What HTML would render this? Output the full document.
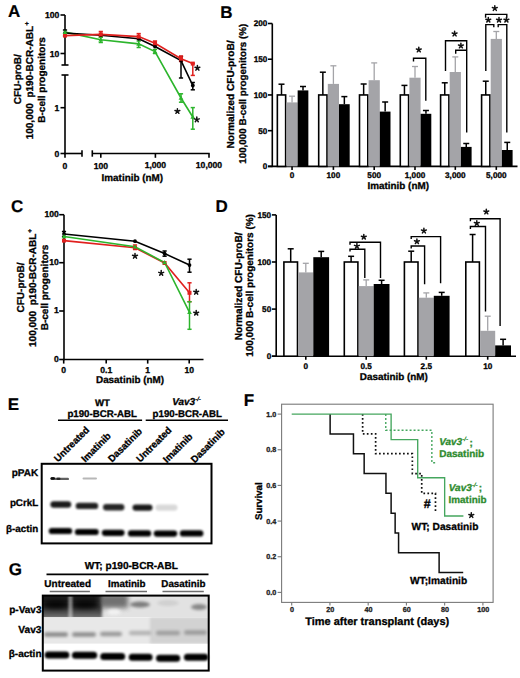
<!DOCTYPE html><html><head><meta charset="utf-8"><title>Figure</title><style>html,body{margin:0;padding:0;background:#fff;}svg{display:block;font-family:"Liberation Sans",sans-serif;font-weight:bold;text-rendering:geometricPrecision;}</style></head><body>
<svg width="520" height="678" viewBox="0 0 520 678">
<defs>
<filter id="b0_6" x="-50%" y="-200%" width="200%" height="500%"><feGaussianBlur stdDeviation="0.6"/></filter>
<filter id="b0_7" x="-50%" y="-200%" width="200%" height="500%"><feGaussianBlur stdDeviation="0.7"/></filter>
<filter id="b0_8" x="-50%" y="-200%" width="200%" height="500%"><feGaussianBlur stdDeviation="0.8"/></filter>
<filter id="b0_9" x="-50%" y="-200%" width="200%" height="500%"><feGaussianBlur stdDeviation="0.9"/></filter>
<filter id="b1_0" x="-50%" y="-200%" width="200%" height="500%"><feGaussianBlur stdDeviation="1.0"/></filter>
<filter id="b1_2" x="-50%" y="-200%" width="200%" height="500%"><feGaussianBlur stdDeviation="1.2"/></filter>
<filter id="b1_5" x="-50%" y="-200%" width="200%" height="500%"><feGaussianBlur stdDeviation="1.5"/></filter>
<filter id="b2_5" x="-50%" y="-200%" width="200%" height="500%"><feGaussianBlur stdDeviation="2.5"/></filter>
<clipPath id="clipG1"><rect x="42.8" y="595.6" width="165.9" height="21.7"/></clipPath>
<clipPath id="clipG2"><rect x="42.8" y="617.3" width="165.9" height="26.5"/></clipPath>
<linearGradient id="gradP" x1="0" y1="0" x2="0" y2="1"><stop offset="0" stop-color="#151515"/><stop offset="0.5" stop-color="#262626"/><stop offset="1" stop-color="#7a7a7a"/></linearGradient>
</defs>
<rect x="0" y="0" width="520" height="678" fill="#fff" stroke="none" stroke-width="0"/>
<text x="8" y="16.7" font-size="17" text-anchor="start" fill="#000" stroke="#000" stroke-width="0.2">A</text>
<text x="20.8" y="79.2" font-size="10" text-anchor="middle" fill="#000" stroke="#000" stroke-width="0.3" transform="rotate(-90 20.8 79.2)">CFU-proB/</text>
<text x="33.2" y="80.5" font-size="10" text-anchor="middle" fill="#000" stroke="#000" stroke-width="0.3" transform="rotate(-90 33.2 80.5)">100,000&#160;&#160;p190-BCR-ABL<tspan font-size="6.5" dx="0.5" dy="-3.8">+</tspan></text>
<text x="45" y="79.9" font-size="10" text-anchor="middle" fill="#000" stroke="#000" stroke-width="0.3" transform="rotate(-90 45 79.9)">B-cell progenitors</text>
<line x1="65" y1="15" x2="65" y2="65" stroke="#000" stroke-width="1.6"/>
<line x1="61.5" y1="65" x2="68.5" y2="65" stroke="#000" stroke-width="1.6"/>
<line x1="65" y1="75" x2="65" y2="154.2" stroke="#000" stroke-width="1.6"/>
<line x1="61.5" y1="75" x2="68.5" y2="75" stroke="#000" stroke-width="1.6"/>
<line x1="60.5" y1="15" x2="65" y2="15" stroke="#000" stroke-width="1.6"/>
<text x="59.3" y="18" font-size="8.6" text-anchor="end" fill="#000" stroke="#000" stroke-width="0.3">100</text>
<line x1="60.5" y1="53.5" x2="65" y2="53.5" stroke="#000" stroke-width="1.6"/>
<text x="59.3" y="56.5" font-size="8.6" text-anchor="end" fill="#000" stroke="#000" stroke-width="0.3">10</text>
<line x1="60.5" y1="107.7" x2="65" y2="107.7" stroke="#000" stroke-width="1.6"/>
<text x="59.3" y="110.7" font-size="8.6" text-anchor="end" fill="#000" stroke="#000" stroke-width="0.3">1</text>
<line x1="60.5" y1="153.5" x2="65" y2="153.5" stroke="#000" stroke-width="1.6"/>
<text x="59.3" y="156.5" font-size="8.6" text-anchor="end" fill="#000" stroke="#000" stroke-width="0.3">0</text>
<line x1="64.3" y1="153.5" x2="82" y2="153.5" stroke="#000" stroke-width="1.6"/>
<line x1="82" y1="150.3" x2="82" y2="156.7" stroke="#000" stroke-width="1.6"/>
<line x1="92.3" y1="153.5" x2="209.7" y2="153.5" stroke="#000" stroke-width="1.6"/>
<line x1="92.3" y1="150.3" x2="92.3" y2="156.7" stroke="#000" stroke-width="1.6"/>
<line x1="65" y1="153.5" x2="65" y2="157.8" stroke="#000" stroke-width="1.6"/>
<text x="65" y="168.8" font-size="8.6" text-anchor="middle" fill="#000" stroke="#000" stroke-width="0.3">0</text>
<line x1="100.8" y1="153.5" x2="100.8" y2="157.8" stroke="#000" stroke-width="1.6"/>
<text x="100.8" y="168.8" font-size="8.6" text-anchor="middle" fill="#000" stroke="#000" stroke-width="0.3">100</text>
<line x1="155.4" y1="153.5" x2="155.4" y2="157.8" stroke="#000" stroke-width="1.6"/>
<text x="155.4" y="167.6" font-size="8.6" text-anchor="middle" fill="#000" stroke="#000" stroke-width="0.3">1,000</text>
<line x1="209" y1="153.5" x2="209" y2="157.8" stroke="#000" stroke-width="1.6"/>
<text x="209" y="167.6" font-size="8.6" text-anchor="middle" fill="#000" stroke="#000" stroke-width="0.3">10,000</text>
<text x="101.6" y="181" font-size="9.9" text-anchor="start" fill="#000" stroke="#000" stroke-width="0.3">Imatinib (nM)</text>
<line x1="181" y1="56.5" x2="181" y2="78" stroke="#000" stroke-width="1.5"/>
<line x1="178.9" y1="56.5" x2="183.1" y2="56.5" stroke="#000" stroke-width="1.5"/>
<line x1="178.9" y1="78" x2="183.1" y2="78" stroke="#000" stroke-width="1.5"/>
<line x1="192.8" y1="82.5" x2="192.8" y2="89.8" stroke="#000" stroke-width="1.5"/>
<line x1="190.7" y1="82.5" x2="194.9" y2="82.5" stroke="#000" stroke-width="1.5"/>
<line x1="190.7" y1="89.8" x2="194.9" y2="89.8" stroke="#000" stroke-width="1.5"/>
<line x1="65" y1="30" x2="65" y2="36" stroke="#000" stroke-width="1.5"/>
<line x1="62.9" y1="30" x2="67.1" y2="30" stroke="#000" stroke-width="1.5"/>
<line x1="62.9" y1="36" x2="67.1" y2="36" stroke="#000" stroke-width="1.5"/>
<line x1="100.8" y1="31.5" x2="100.8" y2="36.8" stroke="#e0201e" stroke-width="1.5"/>
<line x1="98.7" y1="31.5" x2="102.9" y2="31.5" stroke="#e0201e" stroke-width="1.5"/>
<line x1="98.7" y1="36.8" x2="102.9" y2="36.8" stroke="#e0201e" stroke-width="1.5"/>
<line x1="138.7" y1="33.6" x2="138.7" y2="39.2" stroke="#e0201e" stroke-width="1.5"/>
<line x1="136.6" y1="33.6" x2="140.8" y2="33.6" stroke="#e0201e" stroke-width="1.5"/>
<line x1="136.6" y1="39.2" x2="140.8" y2="39.2" stroke="#e0201e" stroke-width="1.5"/>
<line x1="155" y1="41" x2="155" y2="45.5" stroke="#e0201e" stroke-width="1.5"/>
<line x1="152.9" y1="41" x2="157.1" y2="41" stroke="#e0201e" stroke-width="1.5"/>
<line x1="152.9" y1="45.5" x2="157.1" y2="45.5" stroke="#e0201e" stroke-width="1.5"/>
<line x1="181" y1="56" x2="181" y2="61.5" stroke="#e0201e" stroke-width="1.5"/>
<line x1="178.9" y1="56" x2="183.1" y2="56" stroke="#e0201e" stroke-width="1.5"/>
<line x1="178.9" y1="61.5" x2="183.1" y2="61.5" stroke="#e0201e" stroke-width="1.5"/>
<line x1="192.8" y1="63.3" x2="192.8" y2="75.4" stroke="#e0201e" stroke-width="1.5"/>
<line x1="190.7" y1="63.3" x2="194.9" y2="63.3" stroke="#e0201e" stroke-width="1.5"/>
<line x1="190.7" y1="75.4" x2="194.9" y2="75.4" stroke="#e0201e" stroke-width="1.5"/>
<line x1="100.8" y1="37.3" x2="100.8" y2="42.5" stroke="#2cb52c" stroke-width="1.5"/>
<line x1="98.7" y1="37.3" x2="102.9" y2="37.3" stroke="#2cb52c" stroke-width="1.5"/>
<line x1="98.7" y1="42.5" x2="102.9" y2="42.5" stroke="#2cb52c" stroke-width="1.5"/>
<line x1="138.7" y1="41" x2="138.7" y2="47.5" stroke="#2cb52c" stroke-width="1.5"/>
<line x1="136.6" y1="41" x2="140.8" y2="41" stroke="#2cb52c" stroke-width="1.5"/>
<line x1="136.6" y1="47.5" x2="140.8" y2="47.5" stroke="#2cb52c" stroke-width="1.5"/>
<line x1="155" y1="49.5" x2="155" y2="53.5" stroke="#2cb52c" stroke-width="1.5"/>
<line x1="152.9" y1="49.5" x2="157.1" y2="49.5" stroke="#2cb52c" stroke-width="1.5"/>
<line x1="152.9" y1="53.5" x2="157.1" y2="53.5" stroke="#2cb52c" stroke-width="1.5"/>
<line x1="181" y1="93.8" x2="181" y2="102.2" stroke="#2cb52c" stroke-width="1.5"/>
<line x1="178.9" y1="93.8" x2="183.1" y2="93.8" stroke="#2cb52c" stroke-width="1.5"/>
<line x1="178.9" y1="102.2" x2="183.1" y2="102.2" stroke="#2cb52c" stroke-width="1.5"/>
<line x1="192.8" y1="107.6" x2="192.8" y2="129.2" stroke="#2cb52c" stroke-width="1.5"/>
<line x1="190.7" y1="107.6" x2="194.9" y2="107.6" stroke="#2cb52c" stroke-width="1.5"/>
<line x1="190.7" y1="129.2" x2="194.9" y2="129.2" stroke="#2cb52c" stroke-width="1.5"/>
<polyline points="65,32.1 100.8,39.8 138.7,43.9 155,51.6 181,98 192.8,117" fill="none" stroke="#2cb52c" stroke-width="1.6"/>
<polyline points="65,33 100.8,35.2 138.7,38.8 155,46.5 181,60.6 192.8,85.5" fill="none" stroke="#000" stroke-width="1.6"/>
<polyline points="65,35.6 100.8,34.4 138.7,36.6 155,43.2 181,58.7 192.8,63.6" fill="none" stroke="#e0201e" stroke-width="1.6"/>
<circle cx="65" cy="33" r="1.9" fill="#000"/>
<circle cx="100.8" cy="35.2" r="1.9" fill="#000"/>
<circle cx="138.7" cy="38.8" r="1.9" fill="#000"/>
<circle cx="155" cy="46.5" r="1.9" fill="#000"/>
<circle cx="181" cy="60.6" r="1.9" fill="#000"/>
<circle cx="192.8" cy="85.5" r="1.9" fill="#000"/>
<rect x="63" y="33.6" width="4" height="4" fill="#e0201e" stroke="none" stroke-width="0"/>
<rect x="98.8" y="32.4" width="4" height="4" fill="#e0201e" stroke="none" stroke-width="0"/>
<rect x="136.7" y="34.6" width="4" height="4" fill="#e0201e" stroke="none" stroke-width="0"/>
<rect x="153" y="41.2" width="4" height="4" fill="#e0201e" stroke="none" stroke-width="0"/>
<rect x="179" y="56.7" width="4" height="4" fill="#e0201e" stroke="none" stroke-width="0"/>
<rect x="190.8" y="61.6" width="4" height="4" fill="#e0201e" stroke="none" stroke-width="0"/>
<polygon points="65,29.7 62.6,33.9 67.4,33.9" fill="#2cb52c"/>
<polygon points="100.8,37.4 98.4,41.6 103.2,41.6" fill="#2cb52c"/>
<polygon points="138.7,41.5 136.3,45.7 141.1,45.7" fill="#2cb52c"/>
<polygon points="155,49.2 152.6,53.4 157.4,53.4" fill="#2cb52c"/>
<polygon points="181,95.6 178.6,99.8 183.4,99.8" fill="#2cb52c"/>
<polygon points="192.8,114.6 190.4,118.8 195.2,118.8" fill="#2cb52c"/>
<path d="M197.4 68.05L197.4 65.5M197.4 68.05L199.83 67.27M197.4 68.05L198.9 70.12M197.4 68.05L195.9 70.12M197.4 68.05L194.97 67.27" stroke="#111" stroke-width="1.5" fill="none" stroke-linecap="round"/>
<path d="M177.4 111.25L177.4 108.7M177.4 111.25L179.83 110.47M177.4 111.25L178.9 113.32M177.4 111.25L175.9 113.32M177.4 111.25L174.97 110.47" stroke="#111" stroke-width="1.5" fill="none" stroke-linecap="round"/>
<path d="M196.8 119.66L196.8 117.11M196.8 119.66L199.23 118.87M196.8 119.66L198.3 121.72M196.8 119.66L195.3 121.72M196.8 119.66L194.37 118.87" stroke="#111" stroke-width="1.5" fill="none" stroke-linecap="round"/>
<text x="220.3" y="17.5" font-size="17" text-anchor="start" fill="#000" stroke="#000" stroke-width="0.2">B</text>
<line x1="272.3" y1="23.5" x2="272.3" y2="167.1" stroke="#000" stroke-width="1.6"/>
<line x1="268" y1="166.4" x2="272.3" y2="166.4" stroke="#000" stroke-width="1.6"/>
<text x="267.3" y="169.3" font-size="8.2" text-anchor="end" fill="#000" stroke="#000" stroke-width="0.3">0</text>
<line x1="268" y1="130.68" x2="272.3" y2="130.68" stroke="#000" stroke-width="1.6"/>
<text x="267.3" y="133.58" font-size="8.2" text-anchor="end" fill="#000" stroke="#000" stroke-width="0.3">50</text>
<line x1="268" y1="94.95" x2="272.3" y2="94.95" stroke="#000" stroke-width="1.6"/>
<text x="267.3" y="97.85" font-size="8.2" text-anchor="end" fill="#000" stroke="#000" stroke-width="0.3">100</text>
<line x1="268" y1="59.23" x2="272.3" y2="59.23" stroke="#000" stroke-width="1.6"/>
<text x="267.3" y="62.13" font-size="8.2" text-anchor="end" fill="#000" stroke="#000" stroke-width="0.3">150</text>
<line x1="268" y1="23.5" x2="272.3" y2="23.5" stroke="#000" stroke-width="1.6"/>
<text x="267.3" y="26.4" font-size="8.2" text-anchor="end" fill="#000" stroke="#000" stroke-width="0.3">200</text>
<line x1="268" y1="166.4" x2="517.5" y2="166.4" stroke="#000" stroke-width="1.6"/>
<rect x="277.35" y="94.95" width="8.3" height="71.45" fill="#fff" stroke="#000" stroke-width="1.6"/>
<rect x="286.45" y="102.4" width="11.2" height="64" fill="#a4a4a8" stroke="none" stroke-width="0"/>
<rect x="297.65" y="90.4" width="10.7" height="76" fill="#000" stroke="none" stroke-width="0"/>
<line x1="281.5" y1="94.95" x2="281.5" y2="84.2" stroke="#000" stroke-width="1.5"/>
<line x1="278.5" y1="84.2" x2="284.5" y2="84.2" stroke="#000" stroke-width="1.5"/>
<line x1="292.05" y1="102.4" x2="292.05" y2="96.2" stroke="#a4a4a8" stroke-width="1.3"/>
<line x1="289.05" y1="96.2" x2="295.05" y2="96.2" stroke="#a4a4a8" stroke-width="1.3"/>
<line x1="303" y1="90.4" x2="303" y2="86.5" stroke="#000" stroke-width="1.5"/>
<line x1="300" y1="86.5" x2="306" y2="86.5" stroke="#000" stroke-width="1.5"/>
<rect x="318.7" y="94.95" width="8.3" height="71.45" fill="#fff" stroke="#000" stroke-width="1.6"/>
<rect x="327.8" y="83.9" width="11.2" height="82.5" fill="#a4a4a8" stroke="none" stroke-width="0"/>
<rect x="339" y="104.2" width="10.7" height="62.2" fill="#000" stroke="none" stroke-width="0"/>
<line x1="322.85" y1="94.95" x2="322.85" y2="72.2" stroke="#000" stroke-width="1.5"/>
<line x1="319.85" y1="72.2" x2="325.85" y2="72.2" stroke="#000" stroke-width="1.5"/>
<line x1="333.4" y1="83.9" x2="333.4" y2="65.8" stroke="#a4a4a8" stroke-width="1.3"/>
<line x1="330.4" y1="65.8" x2="336.4" y2="65.8" stroke="#a4a4a8" stroke-width="1.3"/>
<line x1="344.35" y1="104.2" x2="344.35" y2="96.6" stroke="#000" stroke-width="1.5"/>
<line x1="341.35" y1="96.6" x2="347.35" y2="96.6" stroke="#000" stroke-width="1.5"/>
<rect x="359.5" y="94.95" width="8.3" height="71.45" fill="#fff" stroke="#000" stroke-width="1.6"/>
<rect x="368.6" y="80.2" width="11.2" height="86.2" fill="#a4a4a8" stroke="none" stroke-width="0"/>
<rect x="379.8" y="111.6" width="10.7" height="54.8" fill="#000" stroke="none" stroke-width="0"/>
<line x1="363.65" y1="94.95" x2="363.65" y2="84" stroke="#000" stroke-width="1.5"/>
<line x1="360.65" y1="84" x2="366.65" y2="84" stroke="#000" stroke-width="1.5"/>
<line x1="374.2" y1="80.2" x2="374.2" y2="62.9" stroke="#a4a4a8" stroke-width="1.3"/>
<line x1="371.2" y1="62.9" x2="377.2" y2="62.9" stroke="#a4a4a8" stroke-width="1.3"/>
<line x1="385.15" y1="111.6" x2="385.15" y2="102" stroke="#000" stroke-width="1.5"/>
<line x1="382.15" y1="102" x2="388.15" y2="102" stroke="#000" stroke-width="1.5"/>
<rect x="400.3" y="94.95" width="8.3" height="71.45" fill="#fff" stroke="#000" stroke-width="1.6"/>
<rect x="409.4" y="77.7" width="11.2" height="88.7" fill="#a4a4a8" stroke="none" stroke-width="0"/>
<rect x="420.6" y="113.8" width="10.7" height="52.6" fill="#000" stroke="none" stroke-width="0"/>
<line x1="404.45" y1="94.95" x2="404.45" y2="85.4" stroke="#000" stroke-width="1.5"/>
<line x1="401.45" y1="85.4" x2="407.45" y2="85.4" stroke="#000" stroke-width="1.5"/>
<line x1="415" y1="77.7" x2="415" y2="66.5" stroke="#a4a4a8" stroke-width="1.3"/>
<line x1="412" y1="66.5" x2="418" y2="66.5" stroke="#a4a4a8" stroke-width="1.3"/>
<line x1="425.95" y1="113.8" x2="425.95" y2="110.5" stroke="#000" stroke-width="1.5"/>
<line x1="422.95" y1="110.5" x2="428.95" y2="110.5" stroke="#000" stroke-width="1.5"/>
<rect x="440.6" y="94.95" width="8.3" height="71.45" fill="#fff" stroke="#000" stroke-width="1.6"/>
<rect x="449.7" y="72" width="11.2" height="94.4" fill="#a4a4a8" stroke="none" stroke-width="0"/>
<rect x="460.9" y="146.9" width="10.7" height="19.5" fill="#000" stroke="none" stroke-width="0"/>
<line x1="444.75" y1="94.95" x2="444.75" y2="82.8" stroke="#000" stroke-width="1.5"/>
<line x1="441.75" y1="82.8" x2="447.75" y2="82.8" stroke="#000" stroke-width="1.5"/>
<line x1="455.3" y1="72" x2="455.3" y2="56.9" stroke="#a4a4a8" stroke-width="1.3"/>
<line x1="452.3" y1="56.9" x2="458.3" y2="56.9" stroke="#a4a4a8" stroke-width="1.3"/>
<line x1="466.25" y1="146.9" x2="466.25" y2="143.5" stroke="#000" stroke-width="1.5"/>
<line x1="463.25" y1="143.5" x2="469.25" y2="143.5" stroke="#000" stroke-width="1.5"/>
<rect x="481.6" y="94.95" width="8.3" height="71.45" fill="#fff" stroke="#000" stroke-width="1.6"/>
<rect x="490.7" y="38.9" width="11.2" height="127.5" fill="#a4a4a8" stroke="none" stroke-width="0"/>
<rect x="501.9" y="150" width="10.7" height="16.4" fill="#000" stroke="none" stroke-width="0"/>
<line x1="485.75" y1="94.95" x2="485.75" y2="81.2" stroke="#000" stroke-width="1.5"/>
<line x1="482.75" y1="81.2" x2="488.75" y2="81.2" stroke="#000" stroke-width="1.5"/>
<line x1="496.3" y1="38.9" x2="496.3" y2="31.5" stroke="#a4a4a8" stroke-width="1.3"/>
<line x1="493.3" y1="31.5" x2="499.3" y2="31.5" stroke="#a4a4a8" stroke-width="1.3"/>
<line x1="507.25" y1="150" x2="507.25" y2="142.4" stroke="#000" stroke-width="1.5"/>
<line x1="504.25" y1="142.4" x2="510.25" y2="142.4" stroke="#000" stroke-width="1.5"/>
<line x1="292.05" y1="166.4" x2="292.05" y2="169.9" stroke="#000" stroke-width="1.6"/>
<text x="292.05" y="178" font-size="8.2" text-anchor="middle" fill="#000" stroke="#000" stroke-width="0.3">0</text>
<line x1="333.4" y1="166.4" x2="333.4" y2="169.9" stroke="#000" stroke-width="1.6"/>
<text x="333.4" y="178" font-size="8.2" text-anchor="middle" fill="#000" stroke="#000" stroke-width="0.3">100</text>
<line x1="374.2" y1="166.4" x2="374.2" y2="169.9" stroke="#000" stroke-width="1.6"/>
<text x="374.2" y="178" font-size="8.2" text-anchor="middle" fill="#000" stroke="#000" stroke-width="0.3">500</text>
<line x1="415" y1="166.4" x2="415" y2="169.9" stroke="#000" stroke-width="1.6"/>
<text x="415" y="178" font-size="8.2" text-anchor="middle" fill="#000" stroke="#000" stroke-width="0.3">1,000</text>
<line x1="455.3" y1="166.4" x2="455.3" y2="169.9" stroke="#000" stroke-width="1.6"/>
<text x="455.3" y="178" font-size="8.2" text-anchor="middle" fill="#000" stroke="#000" stroke-width="0.3">3,000</text>
<line x1="496.3" y1="166.4" x2="496.3" y2="169.9" stroke="#000" stroke-width="1.6"/>
<text x="496.3" y="178" font-size="8.2" text-anchor="middle" fill="#000" stroke="#000" stroke-width="0.3">5,000</text>
<text x="234.4" y="94.45" font-size="10.15" text-anchor="middle" fill="#000" stroke="#000" stroke-width="0.3" transform="rotate(-90 234.4 94.45)">Normalized CFU-proB/</text>
<text x="246.3" y="93.75" font-size="9.8" text-anchor="middle" fill="#000" stroke="#000" stroke-width="0.3" transform="rotate(-90 246.3 93.75)">100,000 B-cell progenitors (%)</text>
<text x="367.5" y="188.5" font-size="9.9" text-anchor="start" fill="#000" stroke="#000" stroke-width="0.3">Imatinib (nM)</text>
<polyline points="413.5,61.5 413.5,58.3 425.8,58.3 425.8,100.8" fill="none" stroke="#000" stroke-width="1.4"/>
<polyline points="445.5,71 445.5,40.8 466.7,40.8 466.7,132.4" fill="none" stroke="#000" stroke-width="1.4"/>
<polyline points="455.7,53.8 455.7,50.2 466.7,50.2" fill="none" stroke="#000" stroke-width="1.4"/>
<polyline points="485.6,17.8 485.6,14.4 506.8,14.4 506.8,17.8" fill="none" stroke="#000" stroke-width="1.4"/>
<polyline points="485.8,71 485.8,24.6 493.8,24.6 493.8,27.2" fill="none" stroke="#000" stroke-width="1.4"/>
<polyline points="498.2,27.2 498.2,24.6 506.8,24.6 506.8,132.4" fill="none" stroke="#000" stroke-width="1.4"/>
<path d="M418.8 49.76L418.8 47.21M418.8 49.76L421.23 48.97M418.8 49.76L420.3 51.82M418.8 49.76L417.3 51.82M418.8 49.76L416.37 48.97" stroke="#111" stroke-width="1.5" fill="none" stroke-linecap="round"/>
<path d="M454.6 33.86L454.6 31.31M454.6 33.86L457.03 33.07M454.6 33.86L456.1 35.92M454.6 33.86L453.1 35.92M454.6 33.86L452.17 33.07" stroke="#111" stroke-width="1.5" fill="none" stroke-linecap="round"/>
<path d="M460.9 45.76L460.9 43.21M460.9 45.76L463.33 44.97M460.9 45.76L462.4 47.82M460.9 45.76L459.4 47.82M460.9 45.76L458.47 44.97" stroke="#111" stroke-width="1.5" fill="none" stroke-linecap="round"/>
<path d="M494.8 8.36L494.8 5.81M494.8 8.36L497.23 7.57M494.8 8.36L496.3 10.42M494.8 8.36L493.3 10.42M494.8 8.36L492.37 7.57" stroke="#111" stroke-width="1.5" fill="none" stroke-linecap="round"/>
<path d="M488.3 19.95L488.3 17.4M488.3 19.95L490.73 19.17M488.3 19.95L489.8 22.02M488.3 19.95L486.8 22.02M488.3 19.95L485.87 19.17" stroke="#111" stroke-width="1.5" fill="none" stroke-linecap="round"/>
<path d="M499 19.95L499 17.4M499 19.95L501.43 19.17M499 19.95L500.5 22.02M499 19.95L497.5 22.02M499 19.95L496.57 19.17" stroke="#111" stroke-width="1.5" fill="none" stroke-linecap="round"/>
<path d="M506.4 19.95L506.4 17.4M506.4 19.95L508.83 19.17M506.4 19.95L507.9 22.02M506.4 19.95L504.9 22.02M506.4 19.95L503.97 19.17" stroke="#111" stroke-width="1.5" fill="none" stroke-linecap="round"/>
<text x="11" y="211.8" font-size="17" text-anchor="start" fill="#000" stroke="#000" stroke-width="0.2">C</text>
<text x="23.5" y="287.5" font-size="10" text-anchor="middle" fill="#000" stroke="#000" stroke-width="0.3" transform="rotate(-90 23.5 287.5)">CFU-proB/</text>
<text x="35.8" y="288" font-size="10" text-anchor="middle" fill="#000" stroke="#000" stroke-width="0.3" transform="rotate(-90 35.8 288)">100,000&#160;&#160;p190-BCR-ABL<tspan font-size="6.5" dx="0.8" dy="-3.8">+</tspan></text>
<text x="48" y="287.5" font-size="10" text-anchor="middle" fill="#000" stroke="#000" stroke-width="0.3" transform="rotate(-90 48 287.5)">B-cell progenitors</text>
<line x1="64" y1="214.7" x2="64" y2="360.2" stroke="#000" stroke-width="1.6"/>
<line x1="59.2" y1="214.7" x2="64" y2="214.7" stroke="#000" stroke-width="1.6"/>
<text x="58.8" y="217.1" font-size="8.6" text-anchor="end" fill="#000" stroke="#000" stroke-width="0.3">100</text>
<line x1="59.2" y1="262.7" x2="64" y2="262.7" stroke="#000" stroke-width="1.6"/>
<text x="58.8" y="265.1" font-size="8.6" text-anchor="end" fill="#000" stroke="#000" stroke-width="0.3">10</text>
<line x1="59.2" y1="311" x2="64" y2="311" stroke="#000" stroke-width="1.6"/>
<text x="58.8" y="313.4" font-size="8.6" text-anchor="end" fill="#000" stroke="#000" stroke-width="0.3">1</text>
<line x1="59.2" y1="359.5" x2="64" y2="359.5" stroke="#000" stroke-width="1.6"/>
<text x="58.8" y="361.9" font-size="8.6" text-anchor="end" fill="#000" stroke="#000" stroke-width="0.3">0</text>
<line x1="63.3" y1="359.5" x2="203.5" y2="359.5" stroke="#000" stroke-width="1.6"/>
<line x1="63.7" y1="359.5" x2="63.7" y2="363.6" stroke="#000" stroke-width="1.6"/>
<text x="63.7" y="373.2" font-size="8.6" text-anchor="middle" fill="#000" stroke="#000" stroke-width="0.3">0</text>
<line x1="106.2" y1="359.5" x2="106.2" y2="363.6" stroke="#000" stroke-width="1.6"/>
<text x="106.2" y="373.2" font-size="8.6" text-anchor="middle" fill="#000" stroke="#000" stroke-width="0.3">0.1</text>
<line x1="147.7" y1="359.5" x2="147.7" y2="363.6" stroke="#000" stroke-width="1.6"/>
<text x="147.7" y="373.2" font-size="8.6" text-anchor="middle" fill="#000" stroke="#000" stroke-width="0.3">1</text>
<line x1="189.2" y1="359.5" x2="189.2" y2="363.6" stroke="#000" stroke-width="1.6"/>
<text x="189.2" y="373.2" font-size="8.6" text-anchor="middle" fill="#000" stroke="#000" stroke-width="0.3">10</text>
<text x="96" y="383" font-size="9.9" text-anchor="start" fill="#000" stroke="#000" stroke-width="0.3">Dasatinib (nM)</text>
<line x1="64" y1="231.5" x2="64" y2="236.5" stroke="#000" stroke-width="1.5"/>
<line x1="61.9" y1="231.5" x2="66.1" y2="231.5" stroke="#000" stroke-width="1.5"/>
<line x1="61.9" y1="236.5" x2="66.1" y2="236.5" stroke="#000" stroke-width="1.5"/>
<line x1="164.6" y1="251" x2="164.6" y2="256.2" stroke="#000" stroke-width="1.5"/>
<line x1="162.5" y1="251" x2="166.7" y2="251" stroke="#000" stroke-width="1.5"/>
<line x1="162.5" y1="256.2" x2="166.7" y2="256.2" stroke="#000" stroke-width="1.5"/>
<line x1="189.5" y1="259.2" x2="189.5" y2="272.2" stroke="#000" stroke-width="1.5"/>
<line x1="187.4" y1="259.2" x2="191.6" y2="259.2" stroke="#000" stroke-width="1.5"/>
<line x1="187.4" y1="272.2" x2="191.6" y2="272.2" stroke="#000" stroke-width="1.5"/>
<line x1="189.5" y1="282.8" x2="189.5" y2="301.7" stroke="#e0201e" stroke-width="1.5"/>
<line x1="187.4" y1="282.8" x2="191.6" y2="282.8" stroke="#e0201e" stroke-width="1.5"/>
<line x1="187.4" y1="301.7" x2="191.6" y2="301.7" stroke="#e0201e" stroke-width="1.5"/>
<line x1="189.5" y1="301.7" x2="189.5" y2="329.3" stroke="#2cb52c" stroke-width="1.5"/>
<line x1="187.4" y1="301.7" x2="191.6" y2="301.7" stroke="#2cb52c" stroke-width="1.5"/>
<line x1="187.4" y1="329.3" x2="191.6" y2="329.3" stroke="#2cb52c" stroke-width="1.5"/>
<line x1="135" y1="245" x2="135" y2="249.5" stroke="#e0201e" stroke-width="1.5"/>
<line x1="132.9" y1="245" x2="137.1" y2="245" stroke="#e0201e" stroke-width="1.5"/>
<line x1="132.9" y1="249.5" x2="137.1" y2="249.5" stroke="#e0201e" stroke-width="1.5"/>
<polyline points="64,234 135,241.2 164.6,253.6 189.5,265.1" fill="none" stroke="#000" stroke-width="1.6"/>
<polyline points="64,240.6 135,247.8 164.6,263 189.5,292.8" fill="none" stroke="#e0201e" stroke-width="1.6"/>
<polyline points="64,236.5 135,246.8 164.6,262.5 189.5,312.3" fill="none" stroke="#2cb52c" stroke-width="1.6"/>
<circle cx="64" cy="234" r="1.9" fill="#000"/>
<circle cx="135" cy="241.2" r="1.9" fill="#000"/>
<circle cx="164.6" cy="253.6" r="1.9" fill="#000"/>
<circle cx="189.5" cy="265.1" r="1.9" fill="#000"/>
<rect x="62" y="238.6" width="4" height="4" fill="#e0201e" stroke="none" stroke-width="0"/>
<rect x="133" y="245.8" width="4" height="4" fill="#e0201e" stroke="none" stroke-width="0"/>
<rect x="162.6" y="261" width="4" height="4" fill="#e0201e" stroke="none" stroke-width="0"/>
<rect x="187.5" y="290.8" width="4" height="4" fill="#e0201e" stroke="none" stroke-width="0"/>
<polygon points="64,234.1 61.6,238.3 66.4,238.3" fill="#2cb52c"/>
<polygon points="135,244.4 132.6,248.6 137.4,248.6" fill="#2cb52c"/>
<polygon points="164.6,260.1 162.2,264.3 167,264.3" fill="#2cb52c"/>
<polygon points="189.5,309.9 187.1,314.1 191.9,314.1" fill="#2cb52c"/>
<path d="M135 256.06L135 253.5M135 256.06L137.43 255.27M135 256.06L136.5 258.12M135 256.06L133.5 258.12M135 256.06L132.57 255.27" stroke="#111" stroke-width="1.5" fill="none" stroke-linecap="round"/>
<path d="M161.2 273.15L161.2 270.6M161.2 273.15L163.63 272.37M161.2 273.15L162.7 275.22M161.2 273.15L159.7 275.22M161.2 273.15L158.77 272.37" stroke="#111" stroke-width="1.5" fill="none" stroke-linecap="round"/>
<path d="M196.2 292.06L196.2 289.5M196.2 292.06L198.63 291.27M196.2 292.06L197.7 294.12M196.2 292.06L194.7 294.12M196.2 292.06L193.77 291.27" stroke="#111" stroke-width="1.5" fill="none" stroke-linecap="round"/>
<path d="M196.2 312.95L196.2 310.4M196.2 312.95L198.63 312.17M196.2 312.95L197.7 315.02M196.2 312.95L194.7 315.02M196.2 312.95L193.77 312.17" stroke="#111" stroke-width="1.5" fill="none" stroke-linecap="round"/>
<text x="215.4" y="212" font-size="17" text-anchor="start" fill="#000" stroke="#000" stroke-width="0.2">D</text>
<line x1="276.2" y1="214.9" x2="276.2" y2="356.9" stroke="#000" stroke-width="1.6"/>
<line x1="271.9" y1="356.2" x2="276.2" y2="356.2" stroke="#000" stroke-width="1.6"/>
<text x="271.2" y="359.1" font-size="8.2" text-anchor="end" fill="#000" stroke="#000" stroke-width="0.3">0</text>
<line x1="271.9" y1="309.1" x2="276.2" y2="309.1" stroke="#000" stroke-width="1.6"/>
<text x="271.2" y="312" font-size="8.2" text-anchor="end" fill="#000" stroke="#000" stroke-width="0.3">50</text>
<line x1="271.9" y1="262" x2="276.2" y2="262" stroke="#000" stroke-width="1.6"/>
<text x="271.2" y="264.9" font-size="8.2" text-anchor="end" fill="#000" stroke="#000" stroke-width="0.3">100</text>
<line x1="271.9" y1="214.9" x2="276.2" y2="214.9" stroke="#000" stroke-width="1.6"/>
<text x="271.2" y="217.8" font-size="8.2" text-anchor="end" fill="#000" stroke="#000" stroke-width="0.3">150</text>
<line x1="271.9" y1="356.2" x2="516" y2="356.2" stroke="#000" stroke-width="1.6"/>
<rect x="283.9" y="262" width="13.6" height="94.2" fill="#fff" stroke="#000" stroke-width="1.6"/>
<rect x="298.3" y="272.4" width="15" height="83.8" fill="#a4a4a8" stroke="none" stroke-width="0"/>
<rect x="313.3" y="257.2" width="15.8" height="99" fill="#000" stroke="none" stroke-width="0"/>
<line x1="290.7" y1="262" x2="290.7" y2="248.8" stroke="#000" stroke-width="1.5"/>
<line x1="287.7" y1="248.8" x2="293.7" y2="248.8" stroke="#000" stroke-width="1.5"/>
<line x1="305.8" y1="272.4" x2="305.8" y2="263.3" stroke="#a4a4a8" stroke-width="1.3"/>
<line x1="302.8" y1="263.3" x2="308.8" y2="263.3" stroke="#a4a4a8" stroke-width="1.3"/>
<line x1="321.2" y1="257.2" x2="321.2" y2="251.4" stroke="#000" stroke-width="1.5"/>
<line x1="318.2" y1="251.4" x2="324.2" y2="251.4" stroke="#000" stroke-width="1.5"/>
<rect x="344.3" y="262" width="13.6" height="94.2" fill="#fff" stroke="#000" stroke-width="1.6"/>
<rect x="358.7" y="286.1" width="15" height="70.1" fill="#a4a4a8" stroke="none" stroke-width="0"/>
<rect x="373.7" y="284" width="15.8" height="72.2" fill="#000" stroke="none" stroke-width="0"/>
<line x1="351.1" y1="262" x2="351.1" y2="256.3" stroke="#000" stroke-width="1.5"/>
<line x1="348.1" y1="256.3" x2="354.1" y2="256.3" stroke="#000" stroke-width="1.5"/>
<line x1="366.2" y1="286.1" x2="366.2" y2="279.9" stroke="#a4a4a8" stroke-width="1.3"/>
<line x1="363.2" y1="279.9" x2="369.2" y2="279.9" stroke="#a4a4a8" stroke-width="1.3"/>
<line x1="381.6" y1="284" x2="381.6" y2="280.3" stroke="#000" stroke-width="1.5"/>
<line x1="378.6" y1="280.3" x2="384.6" y2="280.3" stroke="#000" stroke-width="1.5"/>
<rect x="404.4" y="262" width="13.6" height="94.2" fill="#fff" stroke="#000" stroke-width="1.6"/>
<rect x="418.8" y="297.7" width="15" height="58.5" fill="#a4a4a8" stroke="none" stroke-width="0"/>
<rect x="433.8" y="295.8" width="15.8" height="60.4" fill="#000" stroke="none" stroke-width="0"/>
<line x1="411.2" y1="262" x2="411.2" y2="251.2" stroke="#000" stroke-width="1.5"/>
<line x1="408.2" y1="251.2" x2="414.2" y2="251.2" stroke="#000" stroke-width="1.5"/>
<line x1="426.3" y1="297.7" x2="426.3" y2="292.9" stroke="#a4a4a8" stroke-width="1.3"/>
<line x1="423.3" y1="292.9" x2="429.3" y2="292.9" stroke="#a4a4a8" stroke-width="1.3"/>
<line x1="441.7" y1="295.8" x2="441.7" y2="292.4" stroke="#000" stroke-width="1.5"/>
<line x1="438.7" y1="292.4" x2="444.7" y2="292.4" stroke="#000" stroke-width="1.5"/>
<rect x="465.8" y="262" width="13.6" height="94.2" fill="#fff" stroke="#000" stroke-width="1.6"/>
<rect x="480.2" y="330.8" width="15" height="25.4" fill="#a4a4a8" stroke="none" stroke-width="0"/>
<rect x="495.2" y="345.4" width="15.8" height="10.8" fill="#000" stroke="none" stroke-width="0"/>
<line x1="472.6" y1="262" x2="472.6" y2="234.5" stroke="#000" stroke-width="1.5"/>
<line x1="469.6" y1="234.5" x2="475.6" y2="234.5" stroke="#000" stroke-width="1.5"/>
<line x1="487.7" y1="330.8" x2="487.7" y2="316.2" stroke="#a4a4a8" stroke-width="1.3"/>
<line x1="484.7" y1="316.2" x2="490.7" y2="316.2" stroke="#a4a4a8" stroke-width="1.3"/>
<line x1="503.1" y1="345.4" x2="503.1" y2="339.3" stroke="#000" stroke-width="1.5"/>
<line x1="500.1" y1="339.3" x2="506.1" y2="339.3" stroke="#000" stroke-width="1.5"/>
<line x1="305.8" y1="356.2" x2="305.8" y2="359.7" stroke="#000" stroke-width="1.6"/>
<text x="305.8" y="369.2" font-size="8.2" text-anchor="middle" fill="#000" stroke="#000" stroke-width="0.3">0</text>
<line x1="366.2" y1="356.2" x2="366.2" y2="359.7" stroke="#000" stroke-width="1.6"/>
<text x="366.2" y="369.2" font-size="8.2" text-anchor="middle" fill="#000" stroke="#000" stroke-width="0.3">0.5</text>
<line x1="426.3" y1="356.2" x2="426.3" y2="359.7" stroke="#000" stroke-width="1.6"/>
<text x="426.3" y="369.2" font-size="8.2" text-anchor="middle" fill="#000" stroke="#000" stroke-width="0.3">2.5</text>
<line x1="487.7" y1="356.2" x2="487.7" y2="359.7" stroke="#000" stroke-width="1.6"/>
<text x="487.7" y="369.2" font-size="8.2" text-anchor="middle" fill="#000" stroke="#000" stroke-width="0.3">10</text>
<text x="241.7" y="286.35" font-size="10.15" text-anchor="middle" fill="#000" stroke="#000" stroke-width="0.3" transform="rotate(-90 241.7 286.35)">Normalized CFU-proB/</text>
<text x="253.2" y="285.45" font-size="10" text-anchor="middle" fill="#000" stroke="#000" stroke-width="0.3" transform="rotate(-90 253.2 285.45)">100,000 B-cell progenitors (%)</text>
<text x="359.8" y="379.8" font-size="9.9" text-anchor="start" fill="#000" stroke="#000" stroke-width="0.3">Dasatinib (nM)</text>
<polyline points="350,244.8 350,242.3 380.5,242.3 380.5,278" fill="none" stroke="#000" stroke-width="1.4"/>
<polyline points="350,251.5 350,249.2 364.8,249.2 364.8,278" fill="none" stroke="#000" stroke-width="1.4"/>
<polyline points="411.2,239 411.2,236.6 440.6,236.6 440.6,283.3" fill="none" stroke="#000" stroke-width="1.4"/>
<polyline points="411.2,248.4 411.2,246 424.6,246 424.6,284.3" fill="none" stroke="#000" stroke-width="1.4"/>
<polyline points="470.4,221.2 470.4,218.7 500.1,218.7 500.1,326" fill="none" stroke="#000" stroke-width="1.4"/>
<polyline points="470.4,229 470.4,226.5 485.5,226.5 485.5,311.4" fill="none" stroke="#000" stroke-width="1.4"/>
<path d="M363.8 236.95L363.8 234.4M363.8 236.95L366.23 236.17M363.8 236.95L365.3 239.02M363.8 236.95L362.3 239.02M363.8 236.95L361.37 236.17" stroke="#111" stroke-width="1.5" fill="none" stroke-linecap="round"/>
<path d="M356.9 246.16L356.9 243.6M356.9 246.16L359.33 245.37M356.9 246.16L358.4 248.22M356.9 246.16L355.4 248.22M356.9 246.16L354.47 245.37" stroke="#111" stroke-width="1.5" fill="none" stroke-linecap="round"/>
<path d="M423.9 230.85L423.9 228.3M423.9 230.85L426.33 230.07M423.9 230.85L425.4 232.92M423.9 230.85L422.4 232.92M423.9 230.85L421.47 230.07" stroke="#111" stroke-width="1.5" fill="none" stroke-linecap="round"/>
<path d="M416.9 241.45L416.9 238.9M416.9 241.45L419.33 240.67M416.9 241.45L418.4 243.52M416.9 241.45L415.4 243.52M416.9 241.45L414.47 240.67" stroke="#111" stroke-width="1.5" fill="none" stroke-linecap="round"/>
<path d="M486.3 211.75L486.3 209.2M486.3 211.75L488.73 210.97M486.3 211.75L487.8 213.82M486.3 211.75L484.8 213.82M486.3 211.75L483.87 210.97" stroke="#111" stroke-width="1.5" fill="none" stroke-linecap="round"/>
<path d="M476.8 223.25L476.8 220.7M476.8 223.25L479.23 222.47M476.8 223.25L478.3 225.32M476.8 223.25L475.3 225.32M476.8 223.25L474.37 222.47" stroke="#111" stroke-width="1.5" fill="none" stroke-linecap="round"/>
<text x="7.8" y="410.4" font-size="17" text-anchor="start" fill="#000" stroke="#000" stroke-width="0.2">E</text>
<text x="102.5" y="405.6" font-size="9.6" text-anchor="middle" fill="#000" stroke="#000" stroke-width="0.3">WT</text>
<text x="102.1" y="417.4" font-size="9.7" text-anchor="middle" fill="#000" stroke="#000" stroke-width="0.3">p190-BCR-ABL</text>
<line x1="58" y1="420.2" x2="142.1" y2="420.2" stroke="#000" stroke-width="1.6"/>
<text x="172.2" y="404.6" font-size="10" text-anchor="start" fill="#000" stroke="#000" stroke-width="0.3" font-style="italic">Vav3</text>
<text x="195.2" y="401" font-size="6" text-anchor="start" fill="#000" stroke="#000" stroke-width="0.3" font-style="italic" font-weight="normal">-/-</text>
<text x="187.3" y="417.4" font-size="9.7" text-anchor="middle" fill="#000" stroke="#000" stroke-width="0.3">p190-BCR-ABL</text>
<line x1="145.7" y1="420.2" x2="228" y2="420.2" stroke="#000" stroke-width="1.6"/>
<text x="58" y="462.5" font-size="9.7" text-anchor="start" fill="#000" stroke="#000" stroke-width="0.3" transform="rotate(-45 58 462.5)">Untreated</text>
<text x="85.3" y="462.8" font-size="9.7" text-anchor="start" fill="#000" stroke="#000" stroke-width="0.3" transform="rotate(-45 85.3 462.8)">Imatinib</text>
<text x="111.9" y="462.8" font-size="9.7" text-anchor="start" fill="#000" stroke="#000" stroke-width="0.3" transform="rotate(-45 111.9 462.8)">Dasatinib</text>
<text x="140.3" y="462.8" font-size="9.7" text-anchor="start" fill="#000" stroke="#000" stroke-width="0.3" transform="rotate(-45 140.3 462.8)">Untreated</text>
<text x="167" y="463.5" font-size="9.7" text-anchor="start" fill="#000" stroke="#000" stroke-width="0.3" transform="rotate(-45 167 463.5)">Imatinib</text>
<text x="194.7" y="463.5" font-size="9.7" text-anchor="start" fill="#000" stroke="#000" stroke-width="0.3" transform="rotate(-45 194.7 463.5)">Dasatinib</text>
<rect x="41.7" y="463.8" width="169.8" height="79.6" fill="#fff" stroke="#000" stroke-width="2"/>
<text x="38.2" y="475.8" font-size="10" text-anchor="end" fill="#000" stroke="#000" stroke-width="0.3">pPAK</text>
<text x="38.2" y="506.3" font-size="9.8" text-anchor="end" fill="#000" stroke="#000" stroke-width="0.3">pCrkL</text>
<text x="38.2" y="531.6" font-size="9.8" text-anchor="end" fill="#000" stroke="#000" stroke-width="0.3">&#946;-actin</text>
<rect x="50.5" y="477.7" width="18.5" height="2.4" rx="1.2" fill="#000" opacity="0.62" filter="url(#b0_7)"/>
<rect x="50.5" y="476.9" width="4.5" height="2.8" rx="1.4" fill="#000" opacity="0.85" filter="url(#b0_6)"/>
<rect x="56.5" y="477.6" width="4" height="2.4" rx="1.2" fill="#000" opacity="0.6" filter="url(#b0_6)"/>
<rect x="82.5" y="477.6" width="14.5" height="2" rx="1" fill="#000" opacity="0.28" filter="url(#b0_7)"/>
<rect x="50.4" y="501.3" width="20.8" height="6.4" rx="3.2" fill="#000" opacity="0.9" filter="url(#b1_2)"/>
<rect x="75.7" y="502.7" width="22.5" height="6.4" rx="3.2" fill="#000" opacity="0.87" filter="url(#b1_2)"/>
<rect x="103" y="504" width="21.4" height="6.4" rx="3.2" fill="#000" opacity="0.85" filter="url(#b1_2)"/>
<rect x="132.5" y="504.4" width="20" height="6.4" rx="3.2" fill="#000" opacity="0.9" filter="url(#b1_2)"/>
<rect x="155.5" y="504.4" width="22" height="6.4" rx="3.2" fill="#000" opacity="0.15" filter="url(#b1_2)"/>
<rect x="48.7" y="527.9" width="23.5" height="6.2" rx="3.1" fill="#000" opacity="1" filter="url(#b0_8)"/>
<rect x="74.8" y="528.9" width="24" height="6.2" rx="3.1" fill="#000" opacity="1" filter="url(#b0_8)"/>
<rect x="101.8" y="529.7" width="22.8" height="6.2" rx="3.1" fill="#000" opacity="1" filter="url(#b0_8)"/>
<rect x="127.9" y="530.3" width="23.3" height="6.2" rx="3.1" fill="#000" opacity="1" filter="url(#b0_8)"/>
<rect x="153.7" y="530.5" width="23.6" height="6.2" rx="3.1" fill="#000" opacity="1" filter="url(#b0_8)"/>
<rect x="179.8" y="530.3" width="23.6" height="6.2" rx="3.1" fill="#000" opacity="1" filter="url(#b0_8)"/>
<text x="243.7" y="406.4" font-size="17" text-anchor="start" fill="#000" stroke="#000" stroke-width="0.2">F</text>
<rect x="281.6" y="404.2" width="211.5" height="198.2" fill="#fff" stroke="#7a7a7a" stroke-width="1.1"/>
<line x1="277.6" y1="592.4" x2="281.6" y2="592.4" stroke="#777" stroke-width="1.1"/>
<text x="276.3" y="595" font-size="7.2" text-anchor="end" fill="#222" stroke="#222" stroke-width="0.3">0.0</text>
<line x1="277.6" y1="556.74" x2="281.6" y2="556.74" stroke="#777" stroke-width="1.1"/>
<text x="276.3" y="559.34" font-size="7.2" text-anchor="end" fill="#222" stroke="#222" stroke-width="0.3">0.2</text>
<line x1="277.6" y1="521.08" x2="281.6" y2="521.08" stroke="#777" stroke-width="1.1"/>
<text x="276.3" y="523.68" font-size="7.2" text-anchor="end" fill="#222" stroke="#222" stroke-width="0.3">0.4</text>
<line x1="277.6" y1="485.42" x2="281.6" y2="485.42" stroke="#777" stroke-width="1.1"/>
<text x="276.3" y="488.02" font-size="7.2" text-anchor="end" fill="#222" stroke="#222" stroke-width="0.3">0.6</text>
<line x1="277.6" y1="449.76" x2="281.6" y2="449.76" stroke="#777" stroke-width="1.1"/>
<text x="276.3" y="452.36" font-size="7.2" text-anchor="end" fill="#222" stroke="#222" stroke-width="0.3">0.8</text>
<line x1="277.6" y1="414.1" x2="281.6" y2="414.1" stroke="#777" stroke-width="1.1"/>
<text x="276.3" y="416.7" font-size="7.2" text-anchor="end" fill="#222" stroke="#222" stroke-width="0.3">1.0</text>
<line x1="291.7" y1="602.4" x2="291.7" y2="605.6" stroke="#777" stroke-width="1.1"/>
<text x="292" y="611.7" font-size="7.2" text-anchor="middle" fill="#222" stroke="#222" stroke-width="0.3">0</text>
<line x1="329.94" y1="602.4" x2="329.94" y2="605.6" stroke="#777" stroke-width="1.1"/>
<text x="330.24" y="611.7" font-size="7.2" text-anchor="middle" fill="#222" stroke="#222" stroke-width="0.3">20</text>
<line x1="368.18" y1="602.4" x2="368.18" y2="605.6" stroke="#777" stroke-width="1.1"/>
<text x="368.48" y="611.7" font-size="7.2" text-anchor="middle" fill="#222" stroke="#222" stroke-width="0.3">40</text>
<line x1="406.42" y1="602.4" x2="406.42" y2="605.6" stroke="#777" stroke-width="1.1"/>
<text x="406.72" y="611.7" font-size="7.2" text-anchor="middle" fill="#222" stroke="#222" stroke-width="0.3">60</text>
<line x1="444.66" y1="602.4" x2="444.66" y2="605.6" stroke="#777" stroke-width="1.1"/>
<text x="444.96" y="611.7" font-size="7.2" text-anchor="middle" fill="#222" stroke="#222" stroke-width="0.3">80</text>
<line x1="482.9" y1="602.4" x2="482.9" y2="605.6" stroke="#777" stroke-width="1.1"/>
<text x="483.2" y="611.7" font-size="7.2" text-anchor="middle" fill="#222" stroke="#222" stroke-width="0.3">100</text>
<text x="305.2" y="624.6" font-size="11" text-anchor="start" fill="#000" stroke="#000" stroke-width="0.3">Time after transplant (days)</text>
<text x="261.6" y="501.2" font-size="9.7" text-anchor="middle" fill="#000" stroke="#000" stroke-width="0.3" transform="rotate(-90 261.6 501.2)">Survival</text>
<polyline points="330.13,414.1 330.13,433.91 353.46,433.91 353.46,453.72 364.16,453.72 364.16,473.53 385.96,473.53 385.96,493.34 391.12,493.34 391.12,513.16 395.14,513.16 395.14,532.97 398.58,532.97 398.58,552.78 439.12,552.78 439.12,572.59 463.21,572.59" fill="none" stroke="#111" stroke-width="1.5"/>
<polyline points="362.64,414.1 362.64,433.91 375.64,433.91 375.64,453.72 412.35,453.72 412.35,473.53 421.72,473.53 421.72,493.34 435.48,493.34 435.48,513.16" fill="none" stroke="#111" stroke-width="1.7" stroke-dasharray="1.7 2.3"/>
<polyline points="385.77,414.1 385.77,430.31 431.85,430.31 431.85,462.73 436.44,462.73" fill="none" stroke="#45a65e" stroke-width="1.4" stroke-dasharray="2 2"/>
<polyline points="291.7,414.1 391.12,414.1 391.12,439.57 417.7,439.57 417.7,477.78 444.66,477.78 444.66,515.99 463.4,515.99" fill="none" stroke="#45a65e" stroke-width="1.35"/>
<text x="439.2" y="445" font-size="10" text-anchor="start" fill="#2e8b2e" stroke="#2e8b2e" stroke-width="0.3" font-style="italic">Vav3</text>
<text x="462.3" y="441" font-size="6" text-anchor="start" fill="#2e8b2e" stroke="#2e8b2e" stroke-width="0.3" font-style="italic" font-weight="normal">-/-</text>
<text x="469.4" y="445.8" font-size="10" text-anchor="start" fill="#2e8b2e" stroke="#2e8b2e" stroke-width="0.3">;</text>
<text x="439.2" y="457.2" font-size="10" text-anchor="start" fill="#2e8b2e" stroke="#2e8b2e" stroke-width="0.3">Dasatinib</text>
<text x="448.8" y="490.7" font-size="10" text-anchor="start" fill="#2e8b2e" stroke="#2e8b2e" stroke-width="0.3" font-style="italic">Vav3</text>
<text x="471.9" y="486.7" font-size="6" text-anchor="start" fill="#2e8b2e" stroke="#2e8b2e" stroke-width="0.3" font-style="italic" font-weight="normal">-/-</text>
<text x="478.8" y="491.2" font-size="10" text-anchor="start" fill="#2e8b2e" stroke="#2e8b2e" stroke-width="0.3">;</text>
<text x="448.6" y="503.2" font-size="9.9" text-anchor="start" fill="#2e8b2e" stroke="#2e8b2e" stroke-width="0.3">Imatinib</text>
<text x="427.3" y="508.3" font-size="12.5" text-anchor="middle" fill="#000" stroke="#000" stroke-width="0.3">#</text>
<path d="M471.3 515.36L471.3 512.81M471.3 515.36L473.73 514.57M471.3 515.36L472.8 517.42M471.3 515.36L469.8 517.42M471.3 515.36L468.87 514.57" stroke="#111" stroke-width="1.5" fill="none" stroke-linecap="round"/>
<text x="411.6" y="529.7" font-size="10.2" text-anchor="start" fill="#000" stroke="#000" stroke-width="0.3">WT; Dasatinib</text>
<text x="410" y="583.7" font-size="10.2" text-anchor="start" fill="#000" stroke="#000" stroke-width="0.3">WT;Imatinib</text>
<text x="8.7" y="574.7" font-size="17" text-anchor="start" fill="#000" stroke="#000" stroke-width="0.2">G</text>
<text x="131.3" y="568.8" font-size="10.1" text-anchor="middle" fill="#000" stroke="#000" stroke-width="0.3">WT; p190-BCR-ABL</text>
<line x1="46.5" y1="574.3" x2="208.5" y2="574.3" stroke="#000" stroke-width="1.7"/>
<text x="67.7" y="586.5" font-size="10" text-anchor="middle" fill="#000" stroke="#000" stroke-width="0.3">Untreated</text>
<text x="126.8" y="586.5" font-size="9.8" text-anchor="middle" fill="#000" stroke="#000" stroke-width="0.3">Imatinib</text>
<text x="183.4" y="586.5" font-size="9.8" text-anchor="middle" fill="#000" stroke="#000" stroke-width="0.3">Dasatinib</text>
<line x1="49.7" y1="591.5" x2="89.9" y2="591.5" stroke="#6e6e6e" stroke-width="1.5"/>
<line x1="105.5" y1="591.5" x2="147" y2="591.5" stroke="#6e6e6e" stroke-width="1.5"/>
<line x1="162.5" y1="591.5" x2="203.8" y2="591.5" stroke="#6e6e6e" stroke-width="1.5"/>
<text x="41.5" y="613.2" font-size="10" text-anchor="end" fill="#000" stroke="#000" stroke-width="0.3">p-Vav3</text>
<text x="41.5" y="633.3" font-size="10.2" text-anchor="end" fill="#000" stroke="#000" stroke-width="0.3">Vav3</text>
<text x="41.5" y="656.6" font-size="10" text-anchor="end" fill="#000" stroke="#000" stroke-width="0.3">&#946;-actin</text>
<g clip-path="url(#clipG1)">
<rect x="42.8" y="595.6" width="165.9" height="22" fill="#e2e2e2" stroke="none" stroke-width="0"/>
<rect x="40" y="594" width="62" height="25" fill="url(#gradP)" filter="url(#b1_5)"/>
<rect x="99" y="594" width="29" height="14" fill="#555" opacity="0.8" filter="url(#b2_5)"/>
<ellipse cx="56" cy="604.5" rx="13" ry="4" fill="#000" opacity="0.85" filter="url(#b2_5)"/>
<ellipse cx="85" cy="604.5" rx="13" ry="4" fill="#000" opacity="0.85" filter="url(#b2_5)"/>
<ellipse cx="140" cy="604.5" rx="10" ry="3" fill="#000" opacity="0.45" filter="url(#b1_5)"/>
<ellipse cx="199" cy="607" rx="8" ry="3" fill="#000" opacity="0.4" filter="url(#b1_5)"/>
<ellipse cx="168" cy="603" rx="11" ry="3" fill="#000" opacity="0.08" filter="url(#b1_5)"/>
<rect x="68.3" y="594" width="4.2" height="25" fill="#fff" opacity="0.45" filter="url(#b1_0)"/>
<ellipse cx="114" cy="612" rx="7" ry="3" fill="#f4f4f4" opacity="0.9" filter="url(#b1_5)"/>
</g>
<g clip-path="url(#clipG2)">
<rect x="42.8" y="617.3" width="165.9" height="26.5" fill="#e8e8e8" stroke="none" stroke-width="0"/>
<rect x="150" y="617.3" width="60" height="26.5" fill="#d2d2d2" filter="url(#b1_5)"/>
<rect x="44" y="632.35" width="24" height="4.5" rx="2.25" fill="#000" opacity="0.4" filter="url(#b1_5)"/>
<rect x="72" y="632.35" width="24" height="4.5" rx="2.25" fill="#000" opacity="0.38" filter="url(#b1_5)"/>
<rect x="100" y="631.75" width="22" height="4.5" rx="2.25" fill="#000" opacity="0.33" filter="url(#b1_5)"/>
<rect x="129" y="630.75" width="22" height="4.5" rx="2.25" fill="#000" opacity="0.22" filter="url(#b1_5)"/>
<rect x="156" y="630.75" width="24" height="4.5" rx="2.25" fill="#000" opacity="0.24" filter="url(#b1_5)"/>
<rect x="184" y="630.25" width="23" height="4.5" rx="2.25" fill="#000" opacity="0.26" filter="url(#b1_5)"/>
</g>
<rect x="44.6" y="651.5" width="24.8" height="7" rx="3.5" fill="#000" opacity="1" filter="url(#b0_9)"/>
<rect x="71.9" y="651.7" width="25.3" height="7" rx="3.5" fill="#000" opacity="1" filter="url(#b0_9)"/>
<rect x="100.2" y="653" width="25" height="7" rx="3.5" fill="#000" opacity="1" filter="url(#b0_9)"/>
<rect x="128.7" y="653.7" width="23.9" height="7" rx="3.5" fill="#000" opacity="1" filter="url(#b0_9)"/>
<rect x="156" y="654.7" width="24.2" height="7" rx="3.5" fill="#000" opacity="1" filter="url(#b0_9)"/>
<rect x="183.9" y="653.7" width="24.4" height="7" rx="3.5" fill="#000" opacity="1" filter="url(#b0_9)"/>
<rect x="42.8" y="595.6" width="165.9" height="75" fill="none" stroke="#000" stroke-width="2"/>
</svg></body></html>
